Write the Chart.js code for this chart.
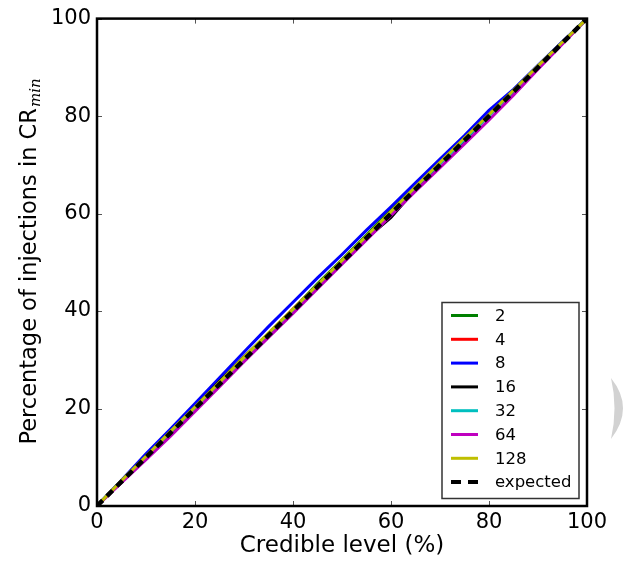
<!DOCTYPE html>
<html>
<head>
<meta charset="utf-8">
<script src="https://cdn.jsdelivr.net/npm/chart.js@4"></script>
<style>
html,body{margin:0;padding:0;background:#fff;}
#wrap{width:626px;height:565px;position:relative;}
</style>
</head>
<body>
<div id="wrap"><canvas id="c" width="626" height="565"></canvas></div>
<script>
// ---- data ----
const credibleLevel = [0,5,10,15,20,25,30,35,40,45,50,55,60,65,70,75,80,85,90,95,100];
const series2   = [0,5.2,10.3,15.1,20.4,25.5,30.6,35.4,40.3,45.6,50.5,55.6,60.8,65.5,70.6,75.7,80.3,85.2,90.3,95.2,100];
const series4   = [0,5.1,10.2,15.3,20.1,25.4,30.5,35.3,40.4,45.2,50.3,55.2,60.4,65.3,70.5,75.6,80.4,85.1,90.2,95.1,100];
const series8   = [0,5.3,10.7,15.8,21.0,26.3,31.6,36.8,41.8,46.8,51.6,56.6,61.4,66.3,71.2,76.0,81.2,85.5,90.4,95.3,100];
const series16  = [0,5.0,10.1,15.0,20.2,25.6,30.4,35.2,40.0,45.1,50.2,54.9,59.2,65.0,70.3,75.1,80.2,85.0,90.1,95.0,100];
const series32  = [0,5.1,10.1,15.2,20.2,25.3,30.3,35.4,40.2,45.3,50.2,55.3,60.3,65.4,70.3,75.2,80.1,85.2,90.2,95.1,100];
const series64  = [0,4.8,9.5,14.3,19.4,24.5,29.6,34.6,39.5,44.6,49.6,54.6,59.6,64.6,69.4,74.3,79.2,84.3,89.6,94.8,100];
const series128 = [0,5.2,10.2,15.3,20.3,25.4,30.5,35.5,40.4,45.4,50.4,55.4,60.4,65.5,70.5,75.5,80.3,85.3,90.3,95.2,100];
const expected  = [0,5,10,15,20,25,30,35,40,45,50,55,60,65,70,75,80,85,90,95,100];
const seriesLabels = ["2","4","8","16","32","64","128","expected"];
const axisTicks = [0,20,40,60,80,100];
const xTitle = "Credible level (%)";
const yTitleMain = "Percentage of injections in CR";
const yTitleSub = "min";

const colors = ["#008000","#ff0000","#0000ff","#000000","#00bfbf","#bf00bf","#bfbf00","#000000"];
const allSeries = [series2,series4,series8,series16,series32,series64,series128,expected];
const FONT = "'DejaVu Sans', sans-serif";

const datasets = allSeries.map((s,i)=>({
  label: seriesLabels[i],
  data: credibleLevel.map((x,j)=>({x:x,y:s[j]})),
  borderColor: colors[i],
  backgroundColor: colors[i],
  borderWidth: i===7 ? 4.5 : 3,
  borderDash: i===7 ? [8,6] : [],
  pointRadius: 0,
  tension: 0,
  fill: false,
  order: 7 - i
}));

const decor = {
  id:'decor',
  afterDatasetsDraw(chart){
    const ctx = chart.ctx, a = chart.chartArea;
    const xs = chart.scales.x, ys = chart.scales.y;
    ctx.save();
    ctx.strokeStyle = '#555'; ctx.lineWidth = 1;
    axisTicks.forEach(v=>{
      const px = Math.round(xs.getPixelForValue(v))+0.5;
      const py = Math.round(ys.getPixelForValue(v))+0.5;
      ctx.beginPath();
      ctx.moveTo(px,a.bottom); ctx.lineTo(px,a.bottom-5);
      ctx.moveTo(px,a.top); ctx.lineTo(px,a.top+5);
      ctx.moveTo(a.left,py); ctx.lineTo(a.left+5,py);
      ctx.moveTo(a.right,py); ctx.lineTo(a.right-5,py);
      ctx.stroke();
    });
    ctx.strokeStyle = '#000'; ctx.lineWidth = 2.5;
    ctx.strokeRect(a.left, a.top, a.right-a.left, a.bottom-a.top);
    // legend
    const lx = 442, ly = 302.5, lw = 137, lh = 196;
    ctx.fillStyle = '#fff';
    ctx.fillRect(lx,ly,lw,lh);
    ctx.strokeStyle = '#333'; ctx.lineWidth = 1.5;
    ctx.strokeRect(lx,ly,lw,lh);
    ctx.font = "16.5px " + FONT;
    ctx.textBaseline = 'middle'; ctx.textAlign = 'left';
    chart.data.datasets.forEach((d,i)=>{
      const y = 315.5 + i*23.8;
      ctx.strokeStyle = d.borderColor;
      ctx.lineWidth = i===7 ? 4 : 3;
      ctx.setLineDash(i===7 ? [10,7] : []);
      ctx.beginPath(); ctx.moveTo(451,y); ctx.lineTo(478,y); ctx.stroke();
      ctx.setLineDash([]);
      ctx.fillStyle = '#000';
      ctx.fillText(d.label, 495, y+1);
    });
    ctx.restore();
  },
  afterDraw(chart){
    const ctx = chart.ctx;
    ctx.save();
    ctx.translate(29, 262);
    ctx.rotate(-Math.PI/2);
    const mainFont = "22.5px " + FONT, subFont = "italic 15px 'DejaVu Serif', serif";
    ctx.font = mainFont; const w1 = ctx.measureText(yTitleMain).width;
    ctx.font = subFont; const w2 = ctx.measureText(yTitleSub).width;
    const start = -(w1+w2)/2;
    ctx.fillStyle = '#000'; ctx.textBaseline = 'alphabetic'; ctx.textAlign = 'left';
    ctx.font = mainFont; ctx.fillText(yTitleMain, start, 7);
    ctx.font = subFont; ctx.fillText(yTitleSub, start + w1 + 1, 11);
    ctx.restore();
    ctx.save();
    ctx.fillStyle = '#d2d2d2';
    ctx.beginPath();
    ctx.moveTo(611,378);
    ctx.quadraticCurveTo(635,408,611,439);
    ctx.quadraticCurveTo(618,408,611,378);
    ctx.fill();
    ctx.restore();
  }
};

new Chart(document.getElementById('c'), {
  type:'line',
  data:{datasets},
  options:{
    responsive:false,
    animation:false,
    layout:{padding:{top:17,right:39,left:0,bottom:0}},
    plugins:{legend:{display:false},tooltip:{enabled:false}},
    scales:{
      x:{
        type:'linear', min:0, max:100,
        afterBuildTicks(s){ s.ticks = axisTicks.map(v=>({value:v})); },
        afterFit(s){ s.height = 59; },
        grid:{display:false, drawTicks:false},
        border:{display:false},
        ticks:{color:'#000', font:{family:FONT,size:21}, padding:4, maxRotation:0, autoSkip:false},
        title:{display:true, text:xTitle, color:'#000', font:{family:FONT,size:23}, padding:{top:0,bottom:5}}
      },
      y:{
        type:'linear', min:0, max:100,
        afterBuildTicks(s){ s.ticks = axisTicks.map(v=>({value:v})); },
        afterFit(s){ s.width = 97; },
        grid:{display:false, drawTicks:false},
        border:{display:false},
        ticks:{color:'#000', font:{family:FONT,size:21}, padding:6, autoSkip:false}
      }
    }
  },
  plugins:[decor]
});
</script>
</body>
</html>
